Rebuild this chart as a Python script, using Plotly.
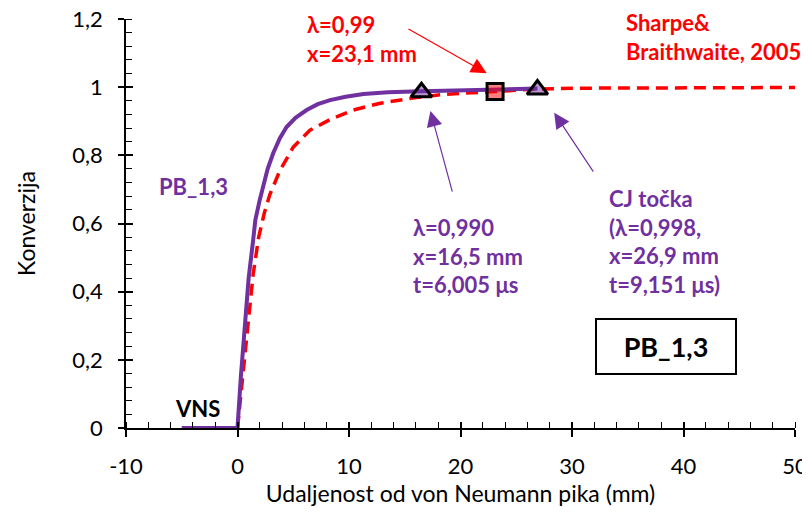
import plotly.graph_objects as go

# ---- data ----
pb_x = [-5, 0, 0.3, 0.67, 1.0, 1.4, 1.6, 2.0, 2.3, 2.7, 3.2, 3.8, 4.4, 5.2, 6.2, 7.2,
        8.3, 9.7, 11.3, 13.5, 16.5, 20.0, 23.1, 26.9]
pb_y = [0, 0, 0.15, 0.317, 0.44, 0.55, 0.61, 0.67, 0.707, 0.76, 0.806, 0.85, 0.883, 0.91,
        0.933, 0.95, 0.962, 0.972, 0.98, 0.985, 0.988, 0.991, 0.994, 0.996]

sb_x = [0, 0.5, 0.94, 1.4, 1.9, 2.4, 2.9, 3.8, 5.0, 6.5, 8.3, 10.4, 12.8, 15.7, 18.0,
        20.0, 23.1, 26.0, 30.0, 35.0, 40.0, 45.0, 50.0]
sb_y = [0, 0.17, 0.317, 0.45, 0.56, 0.63, 0.685, 0.755, 0.824, 0.874, 0.905, 0.933, 0.953,
        0.968, 0.977, 0.982, 0.987, 0.993, 0.997, 0.998, 0.999, 0.999, 0.999]

tri_x = [16.5, 26.9]
tri_y = [0.985, 0.993]
sq_x = [23.1]
sq_y = [0.987]

x_ticks = [-10, 0, 10, 20, 30, 40, 50]
x_ticktext = ["-10", "0", "10", "20", "30", "40", "50"]
y_ticks = [0, 0.2, 0.4, 0.6, 0.8, 1.0, 1.2]
y_ticktext = ["0", "0,2", "0,4", "0,6", "0,8", "1", "1,2"]

PURPLE = "#7030A0"
RED = "#FF0000"
FONT = "Lato"

fig = go.Figure()
fig.add_trace(go.Scatter(x=sb_x, y=sb_y, mode="lines",
                         line=dict(color=RED, width=3.5, dash="12px,7px"),
                         showlegend=False, hoverinfo="skip"))
fig.add_trace(go.Scatter(x=pb_x, y=pb_y, mode="lines",
                         line=dict(color=PURPLE, width=4),
                         showlegend=False, hoverinfo="skip"))
fig.add_trace(go.Scatter(x=sq_x, y=sq_y, mode="markers",
                         marker=dict(symbol="square", size=16, color="rgba(255,0,0,0.5)",
                                     line=dict(color="black", width=3)),
                         showlegend=False, hoverinfo="skip"))
fig.add_trace(go.Scatter(x=tri_x, y=tri_y, mode="markers",
                         marker=dict(symbol="triangle-up", size=18, color="rgba(112,48,160,0.5)",
                                     line=dict(color="black", width=3)),
                         showlegend=False, hoverinfo="skip"))
# dummy trace for overlay axes (inner half of crossing major ticks)
fig.add_trace(go.Scatter(x=[], y=[], xaxis="x2", yaxis="y2", showlegend=False))

tickfont = dict(family=FONT, size=22, color="black")

# page body has an 8px margin -> figure shifted by 8px; height trimmed to avoid page overflow
fig.update_layout(
    width=802, height=503,
    margin=dict(l=118, r=15, t=11, b=83),
    paper_bgcolor="white", plot_bgcolor="white",
    font=dict(family=FONT, size=22, color="black"),
    xaxis=dict(range=[-10, 50], tickmode="array", tickvals=x_ticks, ticktext=x_ticktext,
               automargin=False, ticklabeloverflow="allow",
               showline=True, linecolor="black", linewidth=1.5, showgrid=False, zeroline=False,
               ticks="outside", ticklen=7, tickwidth=1.5, tickcolor="black",
               tickfont=tickfont, ticklabelstandoff=11,
               minor=dict(tick0=-10, dtick=2, ticks="inside", ticklen=6, tickwidth=1.2,
                          tickcolor="black", showgrid=False),
               title=dict(text="Udaljenost od von Neumann pika (mm)",
                          font=dict(family=FONT, size=23, color="black"), standoff=8)),
    yaxis=dict(range=[0, 1.2], tickmode="array", tickvals=y_ticks, ticktext=y_ticktext,
               automargin=False, ticklabeloverflow="allow",
               showline=True, linecolor="black", linewidth=1.5, showgrid=False, zeroline=False,
               ticks="outside", ticklen=6, tickwidth=1.5, tickcolor="black",
               tickfont=tickfont, ticklabelstandoff=11,
               minor=dict(tick0=0, dtick=0.04, ticks="inside", ticklen=6, tickwidth=1.2,
                          tickcolor="black", showgrid=False),
               title=dict(text="Konverzija",
                          font=dict(family=FONT, size=23, color="black"), standoff=30)),
    xaxis2=dict(range=[-10, 50], overlaying="x", anchor="y", side="bottom",
                tickmode="array", tickvals=x_ticks[1:], ticks="inside", ticklen=6,
                tickwidth=1.5, tickcolor="black", showticklabels=False, automargin=False,
                showline=False, showgrid=False, zeroline=False),
    yaxis2=dict(range=[0, 1.2], overlaying="y", anchor="x", side="left",
                tickmode="array", tickvals=y_ticks, ticks="inside", ticklen=7,
                tickwidth=1.5, tickcolor="black", showticklabels=False, automargin=False,
                showline=False, showgrid=False, zeroline=False),
)

def txt(x, y, text, color, size=22, anchor="left"):
    fig.add_annotation(x=x, y=y, xref="x", yref="y", text=text, showarrow=False,
                       xanchor=anchor, yanchor="middle", align="left",
                       font=dict(family=FONT, size=size, color=color))

txt(6.05, 1.14, "<b>λ=0,99<br>x=23,1 mm</b>", RED)
txt(34.7, 1.147, "<b>Sharpe&amp;<br>Braithwaite, 2005</b>", RED)
txt(-7.22, 0.71, "<b>PB_1,3</b>", PURPLE)
txt(15.6, 0.504, "<b>λ=0,990<br>x=16,5 mm<br>t=6,005 μs</b>", PURPLE)
txt(33.1, 0.547, "<b>CJ točka<br>(λ=0,998,<br>x=26,9 mm<br>t=9,151 μs)</b>", PURPLE)
txt(-3.63, 0.056, "<b>VNS</b>", "black", anchor="center")

fig.add_annotation(x=38.4, y=0.24, xref="x", yref="y", text="<b>PB_1,3</b>", showarrow=False,
                   xanchor="center", yanchor="middle",
                   font=dict(family=FONT, size=27, color="black"),
                   bordercolor="black", borderwidth=2, borderpad=0,
                   width=138, height=53, bgcolor="white")

def arrow(x, y, ax, ay, color):
    fig.add_annotation(x=x, y=y, ax=ax, ay=ay, xref="x", yref="y", axref="x", ayref="y",
                       text="", showarrow=True, arrowhead=2, arrowsize=2.6, arrowwidth=1.2,
                       arrowcolor=color)

arrow(22.35, 1.041, 15.2, 1.173, RED)
arrow(17.3, 0.93, 19.3, 0.689, PURPLE)
arrow(28.4, 0.925, 32.0, 0.748, PURPLE)

fig.write_html("out.html")
